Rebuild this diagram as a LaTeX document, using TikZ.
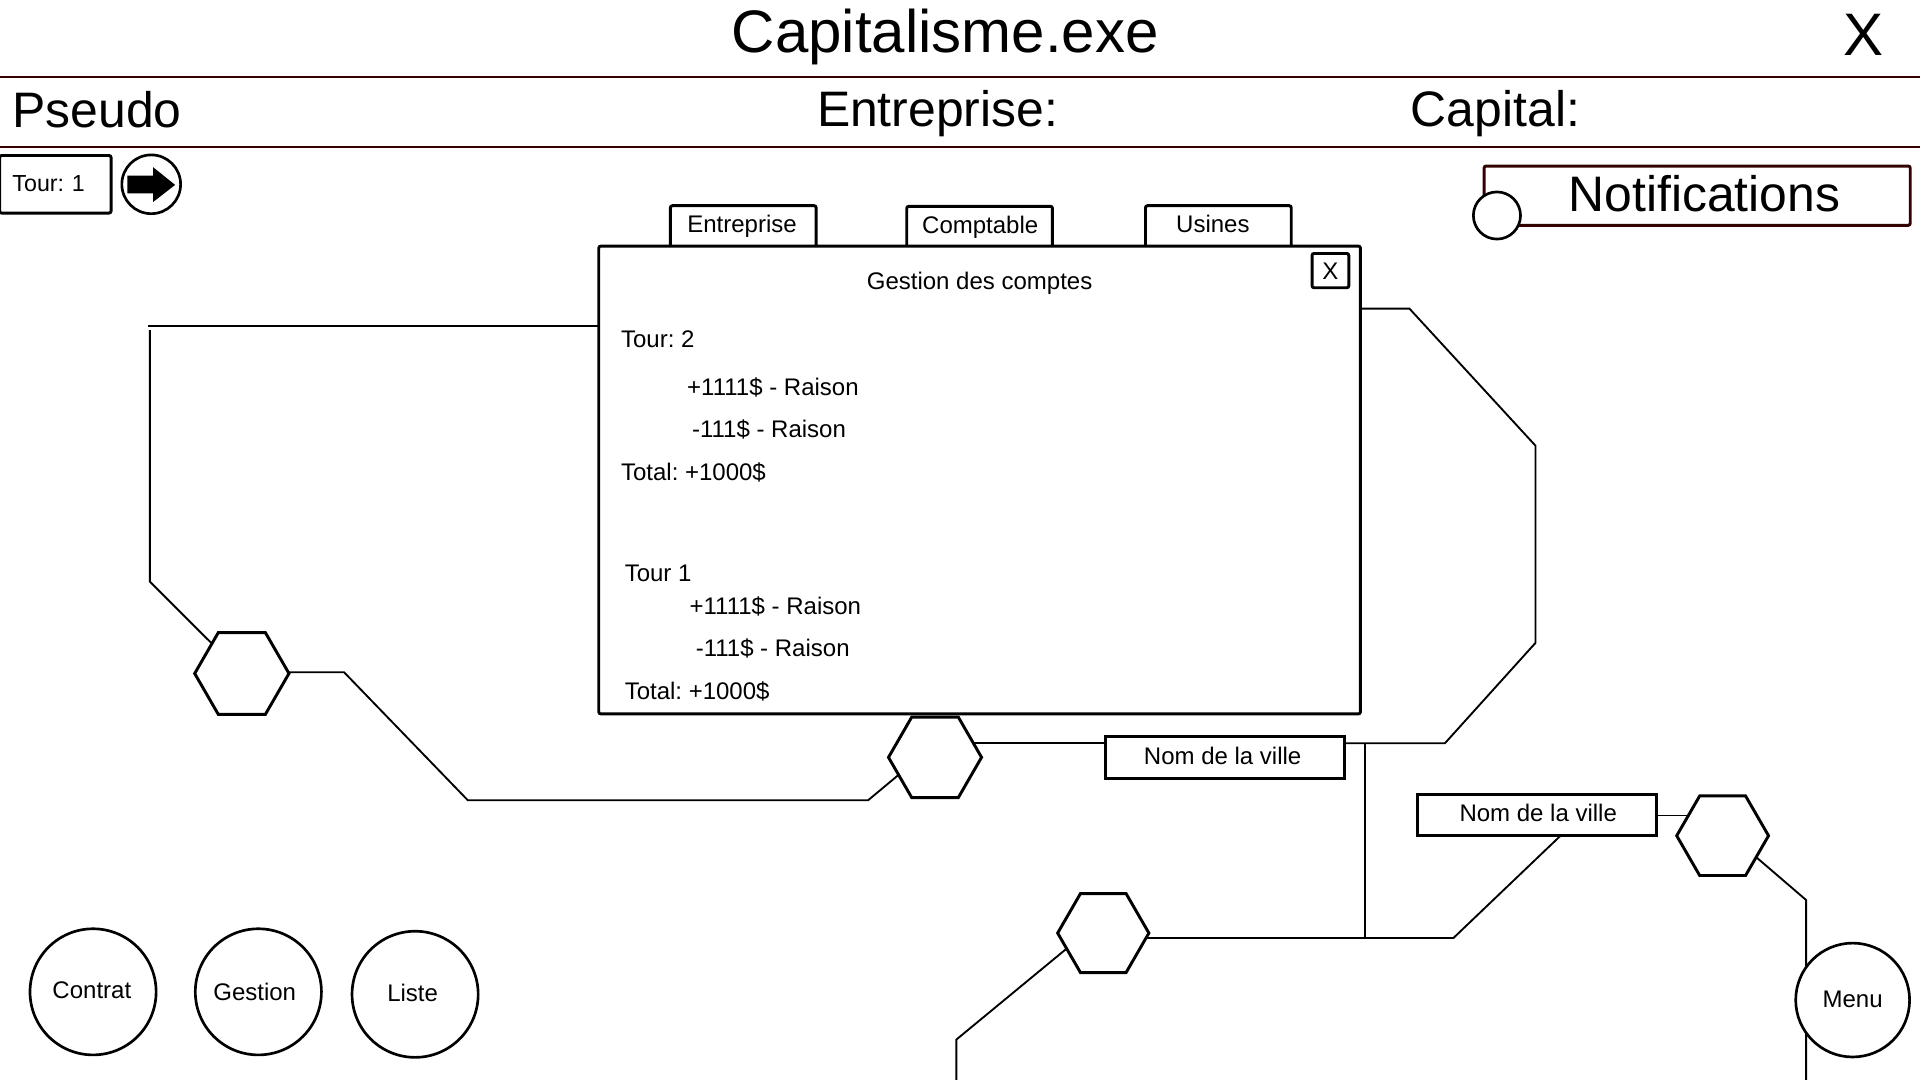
\documentclass[tikz,border=0pt]{standalone}
\usepackage{fontspec}
\setmainfont{Liberation Sans}
\usetikzlibrary{backgrounds,calc,shapes.geometric}
\newdimen\ux \ux=0.918367pt
\definecolor{darkred}{HTML}{330000}
\frenchspacing
\tikzset{
  smalltext/.style={font=\fontsize{18}{20}\selectfont, inner sep=0pt, anchor=base west},
  midtext/.style={font=\fontsize{37.4}{40}\selectfont, inner sep=0pt, anchor=base west},
  hugetext/.style={font=\fontsize{45}{48}\selectfont, inner sep=0pt, anchor=base},
  headline/.style={draw=darkred, line width=1.5pt},
  link/.style={draw=black, line width=1.4pt, line join=miter},
  boxed/.style={draw=black, fill=white, line width=2.2pt, rounded corners=1.5pt, inner sep=0pt, anchor=base, font=\fontsize{18}{20}\selectfont},
  tabbox/.style={boxed, minimum width=119*\ux, text height=22*\ux, text depth=13*\ux},
  citybox/.style={boxed, rounded corners=0pt, line width=2.3pt, minimum width=195.5*\ux, text height=22.5*\ux, text depth=11.5*\ux},
  hexa/.style={regular polygon, regular polygon sides=6, draw=black, fill=white, line width=2.2pt, inner sep=0pt, minimum size=#1*\ux},
  roundbtn/.style={circle, draw=black, fill=white, line width=2pt, inner sep=0pt, minimum size=#1*\ux, font=\fontsize{18}{20}\selectfont},
}
\begin{document}
\begin{tikzpicture}[x=0.918367pt, y=-0.918367pt]
\useasboundingbox (0,0) rectangle (1568,882);

% header
\coordinate (hl1) at (0,63); \coordinate (hr1) at (1568,63);
\coordinate (hl2) at (0,120); \coordinate (hr2) at (1568,120);
\draw[headline] (hl1) -- (hr1);
\draw[headline] (hl2) -- (hr2);
\node[hugetext] (title) at (772,42.5) {Capitalisme.exe};
\node[hugetext] (closeapp) at (1521.5,45.7) {X};
\node[midtext] (pseudo) at (10,104) {Pseudo};
\node[midtext] (entreprise) at (667,103) {Entreprise:};
\node[midtext] (capital) at (1152,103) {Capital:};

% turn
\node[boxed, anchor=base west, text width=70*\ux, inner xsep=10.5*\ux, text height=29.5*\ux, text depth=17.5*\ux, font=\fontsize{17.4}{20}\selectfont] (tour) at (-1.5,156.5) {Tour: 1};
\node[roundbtn=48] (next) at (123.5,150.5) {};
\fill ($(next)+(-19.5,-7)$) -- ($(next)+(1.5,-7)$) -- ($(next)+(1.5,-14)$) -- ($(next)+(19.5,0.5)$) -- ($(next)+(1.5,14.5)$) -- ($(next)+(1.5,7.5)$) -- ($(next)+(-19.5,7.5)$) -- cycle;

% notifications
\node[boxed, draw=darkred, minimum width=348*\ux, text height=37.4*\ux, text depth=11*\ux, font=\fontsize{37.4}{40}\selectfont] (notif) at (1386,173) {\hspace*{12\ux}Notifications};
\node[roundbtn=38.5] (notifdot) at (1222.5,176) {};

% tabs
\node[tabbox] (tab1) at (607,190) {\kern-2\ux Entreprise};
\node[tabbox] (tab2) at (800,190.5) {\kern1\ux Comptable};
\node[tabbox] (tab3) at (995,190) {\kern-9\ux Usines};

% window
\node[draw=black, fill=white, line width=2.2pt, rounded corners=1.5pt, inner sep=0pt, minimum width=622*\ux, minimum height=382*\ux] (win) at (800,392) {};
\node[boxed, minimum width=30*\ux, text height=21*\ux, text depth=7*\ux] (winx) at (1086.5,228) {X};
\node[smalltext, anchor=base] (wintitle) at (800,236.5) {Gestion des comptes};
\node[smalltext] (t2) at (507,283.5) {Tour: 2};
\node[smalltext] (t2a) at (561,323) {+1111\$ - Raison};
\node[smalltext] (t2b) at (565,357) {-111\$ - Raison};
\node[smalltext] (t2c) at (507,392) {Total: +1000\$};
\node[smalltext] (t1) at (510,474.5) {Tour 1};
\node[smalltext] (t1a) at (563,501.5) {+1111\$ - Raison};
\node[smalltext] (t1b) at (568,536) {-111\$ - Raison};
\node[smalltext] (t1c) at (510,571) {Total: +1000\$};

% cities
\node[hexa=77] (hex1) at (197.5,550) {};
\node[hexa=76] (hex2) at (763.6,618.5) {};
\node[hexa=74.5] (hex3) at (901,762) {};
\node[hexa=75] (hex4) at (1406.8,682.5) {};
\node[citybox] (box1) at (1000.5,624) {\kern-4\ux Nom de la ville};
\node[citybox] (box2) at (1255.2,671) {\kern2\ux Nom de la ville};

% round buttons
\node[roundbtn=103] (contrat) at (76,810) {\raisebox{2\ux}{\kern-2\ux Contrat}};
\node[roundbtn=103] (gestion) at (211,810) {\raisebox{-1.5\ux}{\kern-6\ux Gestion}};
\node[roundbtn=103] (liste) at (339,812) {\raisebox{2\ux}{\kern-4\ux Liste}};
\node[roundbtn=93] (menu) at (1513,816.7) {\raisebox{2\ux}{Menu}};

% connectors, under the nodes
\begin{scope}[on background layer]
\fill[white] (0,0) rectangle (1568,882);
\coordinate (a1) at (121,266);
\coordinate (a2) at (122.4,269.5);
\coordinate (a3) at (122.4,475);
\draw[link] (win.center |- a1) -- (a1);
\draw[link] (a2) -- (a3) -- (hex1.center);

\coordinate (b1) at (281,549);
\coordinate (b2) at (382,653.5);
\coordinate (b3) at (709,653.5);
\draw[link] (hex1.center |- b1) -- (b1) -- (b2) -- (b3) -- ($(hex2.center)+(0,-10.5)$);

\coordinate (r1) at (1180,607);
\coordinate (r2) at (1254,525);
\coordinate (r3) at (1254,364);
\coordinate (r4) at (1151,252);
\draw[link] (hex2.center |- r1) -- (box1.center |- r1);
\draw[link] (box1.center |- r1) -- (r1) -- (r2) -- (r3) -- (r4) -- (win.center |- r4);

\coordinate (j1) at (1115,607);
\coordinate (d1) at (1187,766);
\draw[link] (j1) -- (j1 |- d1);
\draw[link] (hex3.center |- d1) -- (d1) -- ($(box2.center)+(37,0)$);

\coordinate (f1) at (781,849);
\coordinate (f2) at (781,882);
\draw[link] (f2) -- (f1) -- ($(hex3.center)+(0,-12)$);

\coordinate (e1) at (1381,666);
\draw[link] (box2.center |- e1) -- (hex4.center |- e1);

\coordinate (g1) at (1475,735);
\coordinate (g2) at (1475,882);
\draw[link] ($(hex4.center)+(0,-6)$) -- (g1) -- (g2);
\end{scope}
\end{tikzpicture}
\end{document}
